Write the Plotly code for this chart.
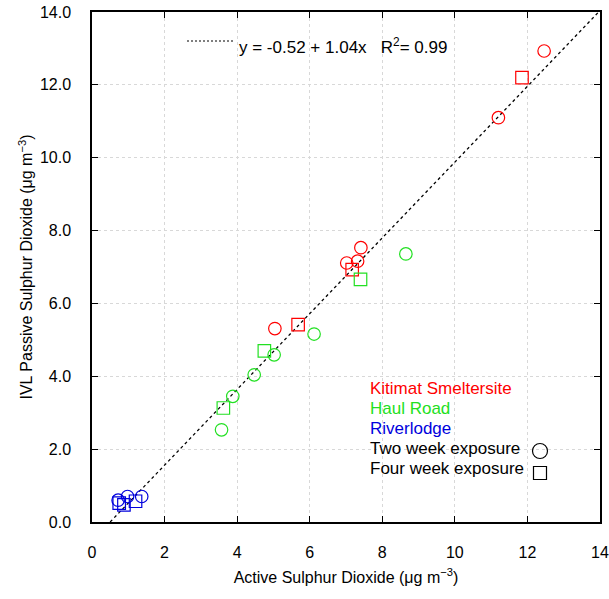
import plotly.graph_objects as go

# Data: (active, passive)
kit_two_x = [12.46, 11.20, 7.41, 7.02, 7.32, 5.04]
kit_two_y = [12.93, 11.10, 7.53, 7.11, 7.16, 5.31]
kit_four_x = [11.85, 7.17, 5.68]
kit_four_y = [12.20, 6.93, 5.42]

haul_two_x = [8.65, 6.12, 5.02, 4.47, 3.88, 3.57]
haul_two_y = [7.36, 5.16, 4.59, 4.04, 3.45, 2.53]
haul_four_x = [7.40, 4.75, 3.62]
haul_four_y = [6.66, 4.70, 3.13]

river_two_x = [0.72, 0.98, 1.37]
river_two_y = [0.60, 0.70, 0.70]
river_four_x = [0.88, 1.20, 0.75]
river_four_y = [0.47, 0.57, 0.52]

fit_intercept = -0.52
fit_slope = 1.04
fit_x = [0.5, 14.0]
fit_y = [fit_intercept + fit_slope * v for v in fit_x]

RED = "#ff0000"
GREEN = "#22e022"
BLUE = "#0000dd"
FONT = "Liberation Sans, Arial, sans-serif"

fig = go.Figure()

fig.add_trace(go.Scatter(x=fit_x, y=fit_y, mode="lines",
                         line=dict(color="black", width=1.3, dash="3px,3px"),
                         showlegend=False, hoverinfo="skip"))

def pts(x, y, color, symbol):
    fig.add_trace(go.Scatter(x=x, y=y, mode="markers", showlegend=False,
                             marker=dict(symbol=symbol, size=12.5, color=color,
                                         line=dict(color=color, width=1.2))))

pts(kit_two_x, kit_two_y, RED, "circle-open")
pts(kit_four_x, kit_four_y, RED, "square-open")
pts(haul_two_x, haul_two_y, GREEN, "circle-open")
pts(haul_four_x, haul_four_y, GREEN, "square-open")
pts(river_two_x, river_two_y, BLUE, "circle-open")
pts(river_four_x, river_four_y, BLUE, "square-open")

axis_common = dict(
    showline=True, linecolor="black", linewidth=1.5, mirror="ticks",
    ticks="inside", ticklen=6, tickcolor="black", tickwidth=1,
    showgrid=True, gridcolor="#d8d8d8", griddash="dot", gridwidth=1,
    zeroline=False, automargin=False, ticklabeloverflow="allow",
    tickfont=dict(size=16, color="black", family=FONT),
)

fig.update_xaxes(range=[0, 14], dtick=2, tick0=0, ticklabelstandoff=15, **axis_common,
                 title=dict(text="Active Sulphur Dioxide (μg m<sup>−3</sup>)",
                            font=dict(size=16, color="black", family=FONT), standoff=12))
fig.update_yaxes(range=[0, 14], dtick=2, tick0=0, tickformat=".1f", ticklabelstandoff=16,
                 **axis_common,
                 title=dict(text="IVL Passive Sulphur Dioxide (μg m<sup>−3</sup>)",
                            font=dict(size=16, color="black", family=FONT), standoff=3))

annotations = []
legend_items = [("Kitimat Smeltersite", RED), ("Haul Road", GREEN), ("Riverlodge", BLUE),
                ("Two week exposure", "black"), ("Four week exposure", "black")]
for i, (txt, col) in enumerate(legend_items):
    annotations.append(dict(xref="paper", yref="paper", x=(368 - 92) / 508, y=(522 - (388 + 20 * i)) / 510,
                            text=txt, showarrow=False, xanchor="left", yanchor="middle",
                            font=dict(size=17, color=col, family=FONT)))
annotations.append(dict(xref="paper", yref="paper", x=(237 - 92) / 508, y=(522 - 46) / 510,
                        text="y = -0.52 + 1.04x   R<sup>2</sup>= 0.99", showarrow=False,
                        xanchor="left", yanchor="middle",
                        font=dict(size=17, color="black", family=FONT)))

shapes = [
    dict(type="line", xref="paper", yref="paper", x0=(187 - 92) / 508, x1=(235 - 92) / 508,
         y0=(522 - 41) / 510, y1=(522 - 41) / 510, line=dict(color="black", width=1, dash="2px,2px")),
    dict(type="circle", xref="paper", yref="paper", xsizemode="pixel", ysizemode="pixel",
         xanchor=(540 - 92) / 508, yanchor=(522 - 451) / 510, x0=-7.5, x1=7.5, y0=-7.5, y1=7.5,
         line=dict(color="black", width=1.2)),
    dict(type="rect", xref="paper", yref="paper", xsizemode="pixel", ysizemode="pixel",
         xanchor=(540 - 92) / 508, yanchor=(522 - 473) / 510, x0=-6.5, x1=6.5, y0=-6.5, y1=6.5,
         line=dict(color="black", width=1.2)),
]

fig.update_layout(
    width=609, height=599,
    margin=dict(l=92, r=9, t=12, b=77),
    plot_bgcolor="white", paper_bgcolor="white",
    font=dict(family=FONT, color="black"),
    annotations=annotations, shapes=shapes, showlegend=False,
)

fig.write_html("out.html", config={"displayModeBar": False},
               post_script="document.body.style.margin='0';document.body.style.overflow='hidden';")
